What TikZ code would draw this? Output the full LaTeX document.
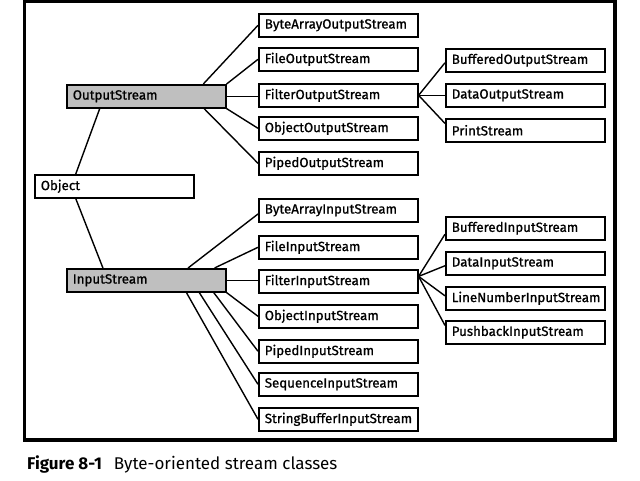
\documentclass[tikz,border=0pt]{standalone}
\usepackage{fontspec}
\setmainfont{Fira Sans}
\newfontfamily\clsfont{Fira Sans}[FakeBold=1]
\usetikzlibrary{calc}
\begin{document}
\begin{tikzpicture}[x=1pt,y=-1pt,
  cls/.style={draw, line width=1.6pt, anchor=north west, minimum height=23pt,
    inner xsep=6pt, inner ysep=0pt, text width=147pt, align=left,
    font=\clsfont\fontsize{13.3}{15}\selectfont},
  base/.style={cls, fill=black!25},
  link/.style={line width=1.4pt}]
\useasboundingbox (0,0) rectangle (640,480);
% outer frame
\draw[line width=3.5pt] (24.5,1.5) rectangle (615,440);

% root and abstract bases
\node[base] (OS) at (66,84) {OutputStream};
\node[cls]  (Obj) at (34,174) {Object};
\node[base] (IS) at (66,268) {InputStream};

% output stream subclasses
\node[cls] (BAOS) at (258,13)  {ByteArrayOutputStream};
\node[cls] (FOS)  at (258,47)  {FileOutputStream};
\node[cls] (FiOS) at (258,83)  {FilterOutputStream};
\node[cls] (OOS)  at (258,116) {ObjectOutputStream};
\node[cls] (POS)  at (258,151) {PipedOutputStream};

% filter output subclasses
\node[cls] (BOS) at (445,48)  {BufferedOutputStream};
\node[cls] (DOS) at (445,83)  {DataOutputStream};
\node[cls] (PS)  at (445,118) {PrintStream};

% input stream subclasses
\node[cls] (BAIS) at (258,198) {ByteArrayInputStream};
\node[cls] (FIS)  at (258,235) {FileInputStream};
\node[cls] (FiIS) at (258,269) {FilterInputStream};
\node[cls] (OIS)  at (258,304) {ObjectInputStream};
\node[cls] (PIS)  at (258,339) {PipedInputStream};
\node[cls] (SIS)  at (258,372) {SequenceInputStream};
\node[cls] (SBIS) at (258,407) {StringBufferInputStream};

% filter input subclasses
\node[cls] (BIS)  at (445,216) {BufferedInputStream};
\node[cls] (DIS)  at (445,251) {DataInputStream};
\node[cls] (LNIS) at (445,286) {LineNumberInputStream};
\node[cls] (PbIS) at (445,320) {PushbackInputStream};

% Object to its two stream bases
\draw[link] ($(Obj.north west)!0.26!(Obj.north east)$) -- ($(OS.south west)!0.21!(OS.south east)$);
\draw[link] ($(Obj.south west)!0.26!(Obj.south east)$) -- ($(IS.north west)!0.23!(IS.north east)$);

% OutputStream fan
\draw[link] ($(OS.north west)!0.855!(OS.north east)$) -- (BAOS.west);
\draw[link] (OS.north east) -- (FOS.west);
\draw[link] (OS.east) -- (OS.east -| FiOS.west);
\draw[link] (OS.south east) -- (OOS.west);
\draw[link] ($(OS.south west)!0.86!(OS.south east)$) -- (POS.west);

% FilterOutputStream fan
\draw[link] (FiOS.east) -- ($(BOS.north west)!0.6!(BOS.south west)$);
\draw[link] (FiOS.east) -- (DOS.west);
\draw[link] (FiOS.east) -- ($(PS.north west)!0.22!(PS.south west)$);

% InputStream fan
\draw[link] ($(IS.north west)!0.76!(IS.north east)$) -- ($(BAIS.north west)!0.65!(BAIS.south west)$);
\draw[link] ($(IS.north west)!0.925!(IS.north east)$) -- (FIS.west);
\draw[link] (IS.east) -- (IS.east -| FiIS.west);
\draw[link] (IS.south east) -- (OIS.west);
\draw[link] ($(IS.south west)!0.92!(IS.south east)$) -- (PIS.west);
\draw[link] ($(IS.south west)!0.83!(IS.south east)$) -- (SIS.west);
\draw[link] ($(IS.south west)!0.75!(IS.south east)$) -- (SBIS.west);

% FilterInputStream fan
\coordinate (fi) at ($(FiIS.north east)!0.3!(FiIS.south east)$);
\draw[link] (fi) -- ($(BIS.north west)!0.74!(BIS.south west)$);
\draw[link] (fi) -- ($(DIS.north west)!0.6!(DIS.south west)$);
\draw[link] (fi) -- ($(LNIS.north west)!0.4!(LNIS.south west)$);
\draw[link] (fi) -- ($(PbIS.north west)!0.22!(PbIS.south west)$);

% caption
\node[anchor=west, inner sep=0pt, font=\fontsize{17}{20}\selectfont] (cap) at (27,464)
  {\textbf{Figure 8-1}\hspace{0.7em}Byte-oriented stream classes};
\end{tikzpicture}
\end{document}
